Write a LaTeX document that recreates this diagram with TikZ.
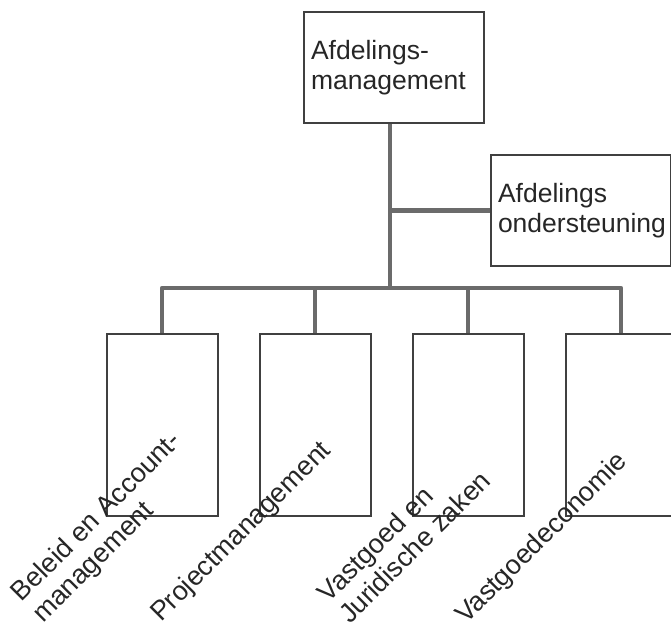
\documentclass[tikz,border=0pt]{standalone}
\usepackage{fontspec}
\setmainfont{Liberation Sans}
\usetikzlibrary{positioning}

\begin{document}
\begin{tikzpicture}[
  x=1pt, y=1pt,
  font=\fontsize{26.5}{30}\selectfont, text=black!85,
  block/.style = {draw=black!75, line width=2pt, rectangle, minimum width=180pt,
                  minimum height=111pt, inner sep=0pt, text width=166pt, align=left},
  unit/.style  = {draw=black!75, line width=2pt, rectangle, minimum width=111pt,
                  minimum height=182pt, inner sep=0pt},
  link/.style  = {draw=black!58, line width=4.5pt, line join=round},
  tag/.style   = {rotate=45, anchor=base west, inner sep=0pt, align=left,
                  font=\fontsize{27}{30}\selectfont},
]
  \useasboundingbox (0,0) rectangle (671,-628);

  \node[block]                  (afm)  at (394,-67.5)  {Afdelings-\\management};
  \node[block]                  (ond)  at (581,-210.5) {Afdelings\\ondersteuning};
  \node[unit]                   (u1)   at (162,-425)   {};
  \node[unit, right=40pt of u1] (u2)   {};
  \node[unit, right=40pt of u2] (u3)   {};
  \node[unit, right=40pt of u3] (u4)   {};

  \coordinate (top) at ([xshift=-4pt]afm.south);
  \coordinate (bus) at (top |- 0,-288);
  \coordinate (br)  at (top |- ond.west);

  \draw[link] (top) -- (bus);
  \draw[link] (br) -- (ond.west);
  \draw[link] (u1.north) -- (u1.north |- bus) -- (u4.north |- bus) -- (u4.north);
  \foreach \u in {u2, u3}
    \draw[link] (\u.north) -- (\u.north |- bus);

  \node[tag] (t1) at (43,-624)  {Beleid en Account-\\management};
  \node[tag] (t2) at (161,-623) {Projectmanagement};
  \node[tag] (t3) at (350,-625) {Vastgoed en\\Juridische zaken};
  \node[tag] (t4) at (466,-625) {Vastgoedeconomie};
\end{tikzpicture}
\end{document}
